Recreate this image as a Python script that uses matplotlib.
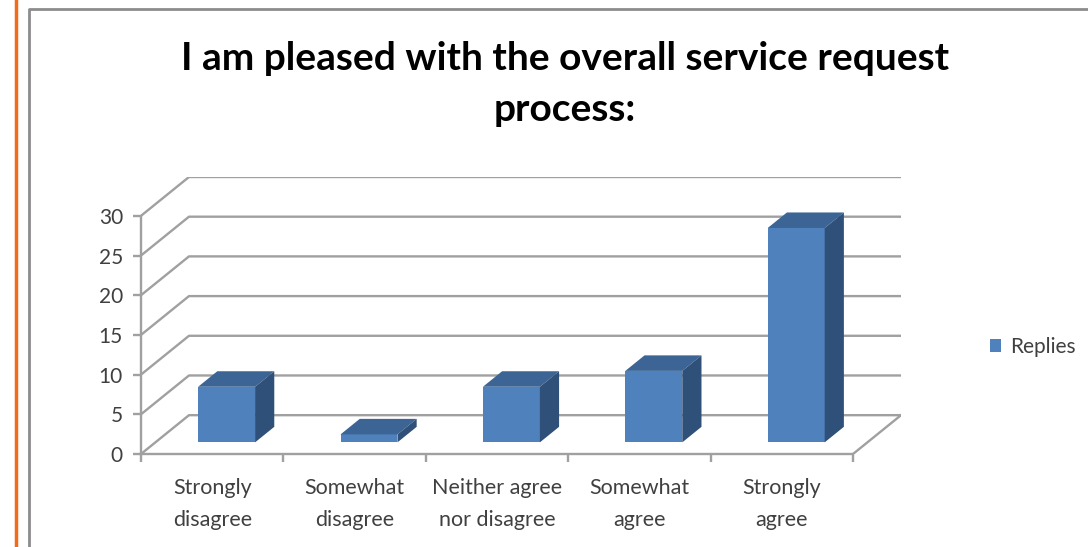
import matplotlib
matplotlib.use("Agg")
import matplotlib.pyplot as plt
from matplotlib.patches import Polygon
from matplotlib.lines import Line2D

categories = ["Strongly\ndisagree", "Somewhat\ndisagree", "Neither agree\nnor disagree",
              "Somewhat\nagree", "Strongly\nagree"]
replies = [7, 1, 7, 9, 27]
yticks = [0, 5, 10, 15, 20, 25, 30]
title = "I am pleased with the overall service request\nprocess:"
series_name = "Replies"

plt.rcParams['font.family'] = ['Lato', 'DejaVu Sans']

W, H = 1088, 547
fig = plt.figure(figsize=(W / 100, H / 100), dpi=100)

# frame decorations
fig.add_artist(Line2D([16 / W, 16 / W], [0, 1], color='#F26B1D', lw=2.5))
fig.add_artist(Line2D([29 / W, 29 / W, 1.0], [0, 1 - 9 / H, 1 - 9 / H], color='#8C8C8C', lw=2))

# depth vector (category units, value units)
DX, DY = 0.337, 4.89
n = len(categories)
ymax = yticks[-1]

ax = fig.add_axes([141 / W, (H - 454) / H, 760 / W, 277 / H])
ax.set_xlim(0, n + DX)
ax.set_ylim(0, ymax + DY)
ax.patch.set_alpha(0)

grid_c = '#A0A0A0'
for v in yticks:
    ax.plot([0, DX, n + DX], [v, v + DY, v + DY], color=grid_c, lw=1.7, zorder=1)
ax.plot([n, n + DX], [0, DY], color=grid_c, lw=1.7, zorder=1)

for s in ['top', 'right']:
    ax.spines[s].set_visible(False)
ax.spines['left'].set_bounds(0, ymax)
ax.spines['bottom'].set_bounds(0, n)
for s in ['left', 'bottom']:
    ax.spines[s].set_color(grid_c)
    ax.spines[s].set_linewidth(1.7)

ax.set_yticks(yticks)
ax.set_yticklabels([str(v) for v in yticks])
ax.set_xticks(range(n + 1))
ax.set_xticklabels([])
ax.set_xticks([i + 0.5 for i in range(n)], minor=True)
ax.set_xticklabels(categories, minor=True)
ax.tick_params(axis='y', length=6, width=1.7, color=grid_c, pad=7, labelsize=15, labelcolor='#404040')
ax.tick_params(axis='x', which='major', length=6, width=1.7, color=grid_c, direction='out')
ax.tick_params(axis='x', which='minor', length=0, pad=17, labelsize=15.5, labelcolor='#404040')
for lab in ax.get_xticklabels(minor=True):
    lab.set_linespacing(1.75)

front_c, top_c, side_c = '#4F81BD', '#3C6495', '#2F5078'
d1, d2 = 0.30, 0.70
bw = 0.40
bx = [i + 0.5 + d1 * DX for i in range(n)]
bars = ax.bar(bx, replies, width=bw, bottom=d1 * DY, color=front_c, zorder=3, label=series_name)
ddx, ddy = (d2 - d1) * DX, (d2 - d1) * DY
for rect, v in zip(bars, replies):
    x0 = rect.get_x()
    x1 = x0 + rect.get_width()
    b = rect.get_y()
    t = b + v
    ax.add_patch(Polygon([(x0, t), (x1, t), (x1 + ddx, t + ddy), (x0 + ddx, t + ddy)],
                         closed=True, facecolor=top_c, edgecolor='none', zorder=3))
    ax.add_patch(Polygon([(x1, b), (x1 + ddx, b + ddy), (x1 + ddx, t + ddy), (x1, t)],
                         closed=True, facecolor=side_c, edgecolor='none', zorder=3))

fig.text(565 / W, 1 - 84 / H, title, ha='center', va='center', fontsize=28,
         fontweight='bold', linespacing=1.55, color='black')

fig.legend(handles=[bars], labels=[series_name], loc='center left',
           bbox_to_anchor=(990 / W, 1 - 347 / H), frameon=False, fontsize=15,
           borderpad=0, borderaxespad=0,
           handlelength=0.55, handleheight=0.55, handletextpad=0.4, labelcolor='#404040')

fig.savefig("out.png", dpi=100)
